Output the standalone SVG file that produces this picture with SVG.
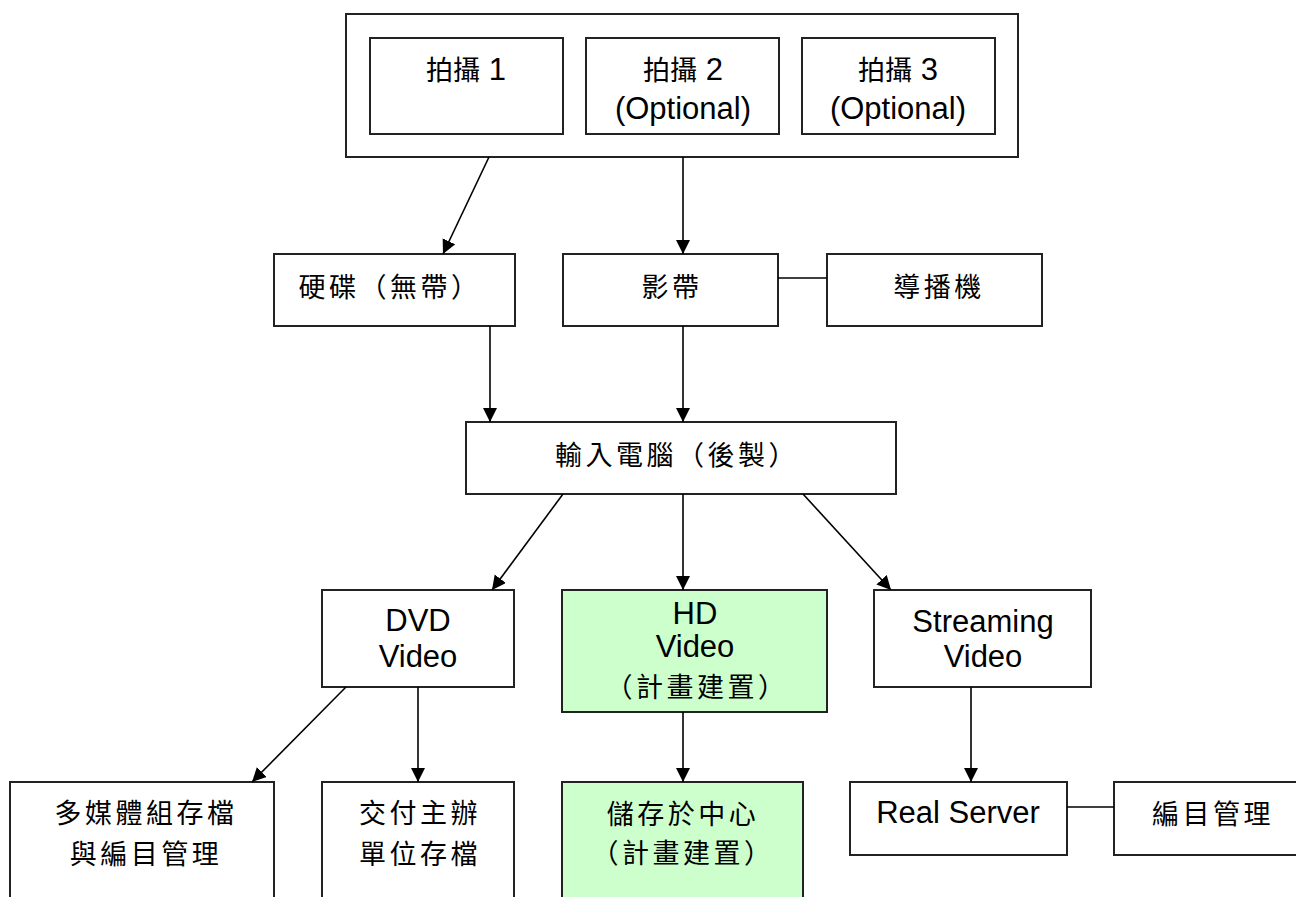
<svg xmlns="http://www.w3.org/2000/svg" width="1296" height="897" viewBox="0 0 1296 897">
<defs>
<marker id="arr" markerUnits="userSpaceOnUse" markerWidth="15" markerHeight="15" refX="14" refY="7" orient="auto">
<path d="M0,0 L14,7 L0,14 z" fill="#000"/>
</marker>
<style>
.box{fill:#fff;stroke:#222;stroke-width:2}
.green{fill:#ccffcc;stroke:#222;stroke-width:2}
.en{font-family:"Liberation Sans",Arial,sans-serif;font-size:31px;fill:#000;text-anchor:middle}
.cj{font-family:"Noto Sans CJK TC","Noto Sans CJK SC",sans-serif;font-size:27px;letter-spacing:3.5px;fill:#000;text-anchor:middle}
.ln{stroke:#000;stroke-width:1.6;fill:none}
.ar{stroke:#000;stroke-width:1.6;fill:none;marker-end:url(#arr)}
</style>
</defs>
<rect width="1296" height="897" fill="#fff"/>
<g id="shoot-group">
<rect class="box" x="346" y="14" width="672" height="143"/>
</g>
<g id="shoot1">
<rect class="box" x="370" y="38" width="193" height="96"/>
<text class="en" x="466" y="80"><tspan font-family="Noto Sans CJK TC, sans-serif" font-size="27">拍攝</tspan> 1</text>
</g>
<g id="shoot2">
<rect class="box" x="586" y="38" width="193" height="96"/>
<text class="en" x="683" y="80"><tspan font-family="Noto Sans CJK TC, sans-serif" font-size="27">拍攝</tspan> 2</text>
<text class="en" x="683" y="119">(Optional)</text>
</g>
<g id="shoot3">
<rect class="box" x="802" y="38" width="193" height="96"/>
<text class="en" x="898" y="80"><tspan font-family="Noto Sans CJK TC, sans-serif" font-size="27">拍攝</tspan> 3</text>
<text class="en" x="898" y="119">(Optional)</text>
</g>
<g id="harddisk">
<rect class="box" x="274" y="254" width="241" height="72"/>
<text class="cj" x="390" y="297">硬碟（無帶）</text>
</g>
<g id="tape">
<rect class="box" x="563" y="254" width="215" height="72"/>
<text class="cj" x="672" y="297">影帶</text>
</g>
<g id="director">
<rect class="box" x="827" y="254" width="215" height="72"/>
<text class="cj" x="939" y="297">導播機</text>
</g>
<g id="computer">
<rect class="box" x="466" y="422" width="430" height="72"/>
<text class="cj" x="677" y="465">輸入電腦（後製）</text>
</g>
<g id="dvd">
<rect class="box" x="322" y="590" width="192" height="97"/>
<text class="en" x="418" y="631">DVD</text>
<text class="en" x="418" y="667">Video</text>
</g>
<g id="hd">
<rect class="green" x="562" y="590" width="265" height="122"/>
<text class="en" x="695" y="624" font-size="29">HD</text>
<text class="en" x="695" y="657" font-size="29">Video</text>
<text class="cj" x="697" y="697">（計畫建置）</text>
</g>
<g id="streaming">
<rect class="box" x="874" y="590" width="217" height="97"/>
<text class="en" x="983" y="632">Streaming</text>
<text class="en" x="983" y="667">Video</text>
</g>
<g id="multimedia">
<rect class="box" x="10" y="782" width="264" height="130"/>
<text class="cj" x="146" y="823">多媒體組存檔</text>
<text class="cj" x="146" y="864">與編目管理</text>
</g>
<g id="deliver">
<rect class="box" x="322" y="782" width="192" height="130"/>
<text class="cj" x="420" y="823">交付主辦</text>
<text class="cj" x="420" y="864">單位存檔</text>
</g>
<g id="storage">
<rect class="green" x="562" y="782" width="241" height="130"/>
<text class="cj" x="683" y="824">儲存於中心</text>
<text class="cj" x="683" y="863">（計畫建置）</text>
</g>
<g id="realserver">
<rect class="box" x="850" y="782" width="217" height="73"/>
<text class="en" x="958" y="823">Real Server</text>
</g>
<g id="catalog">
<rect class="box" x="1114" y="782" width="200" height="73"/>
<text class="cj" x="1213" y="824">編目管理</text>
</g>
<g id="connectors">
<line class="ar" x1="489" y1="157" x2="443" y2="254"/>
<line class="ar" x1="683" y1="157" x2="683" y2="254"/>
<line class="ln" x1="778" y1="278" x2="827" y2="278"/>
<line class="ar" x1="490" y1="326" x2="490" y2="422"/>
<line class="ar" x1="683" y1="326" x2="683" y2="422"/>
<line class="ar" x1="563" y1="494" x2="492" y2="590"/>
<line class="ar" x1="683" y1="494" x2="683" y2="590"/>
<line class="ar" x1="803" y1="494" x2="891" y2="590"/>
<line class="ar" x1="346" y1="687" x2="252" y2="782"/>
<line class="ar" x1="418" y1="687" x2="418" y2="782"/>
<line class="ar" x1="683" y1="712" x2="683" y2="782"/>
<line class="ar" x1="971" y1="687" x2="971" y2="782"/>
<line class="ln" x1="1067" y1="807" x2="1114" y2="807"/>
</g>
</svg>
